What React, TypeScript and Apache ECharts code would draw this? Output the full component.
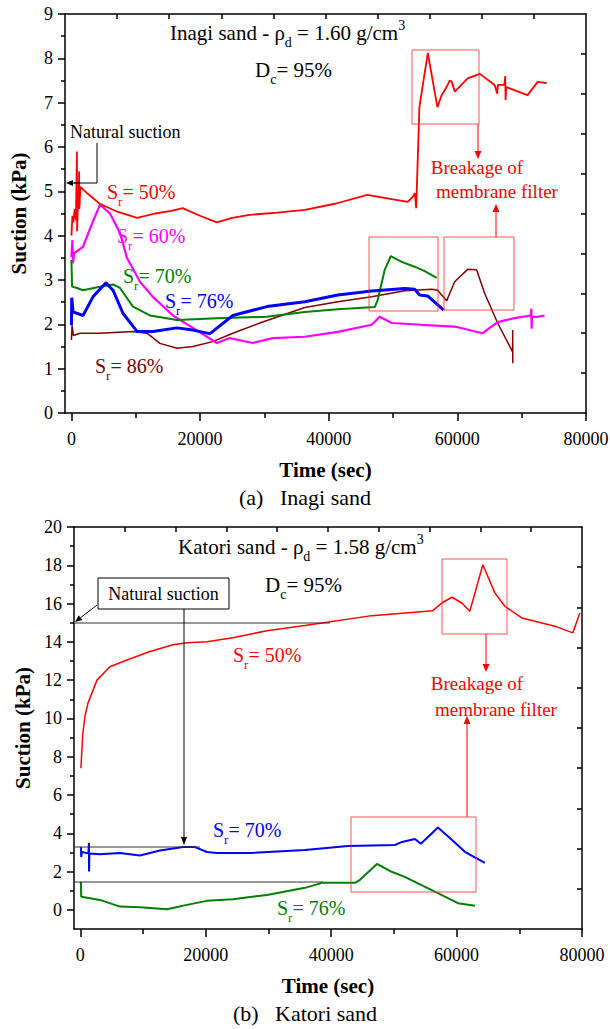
import React, { useEffect, useRef } from 'react';
import * as echarts from 'echarts';

const FONT = 'Liberation Serif';

// ---------- shared axis values ----------
const X_MIN = -1000;
const X_MAX = 80000;
const xMajorTicks = [0, 20000, 40000, 60000, 80000];
const xMinorTicks = [10000, 30000, 50000, 70000];

// ---------- (a) Inagi sand ----------
const inagiYMin = 0;
const inagiYMax = 9;
const inagiSr50: [number, number][] = [
  [0, 4.0], [150, 4.45], [300, 4.3], [500, 4.6], [700, 4.35], [850, 5.9], [880, 4.1], [1000, 4.7],
  [1150, 4.95], [1200, 5.45], [1230, 4.6], [1400, 5.1], [2500, 4.95], [4400, 4.72], [7000, 4.55],
  [10200, 4.4], [13000, 4.5], [15500, 4.56], [17300, 4.62], [20000, 4.45], [22600, 4.3], [25000, 4.4],
  [27700, 4.47], [32000, 4.52], [36300, 4.58], [41000, 4.72], [46000, 4.92], [50000, 4.82], [52300, 4.76],
  [53200, 4.9], [53400, 4.96], [53600, 4.62], [54100, 6.9], [55400, 8.12], [56900, 6.9], [57500, 7.15],
  [58500, 7.4], [58800, 7.5], [59100, 7.48], [59600, 7.25], [61600, 7.55], [63500, 7.65], [65800, 7.4],
  [66200, 7.2], [66300, 7.4], [67300, 7.4], [67450, 7.6], [67500, 7.06], [67600, 7.35], [70900, 7.17],
  [72500, 7.47], [73900, 7.44],
];
const inagiSr60: [number, number][] = [
  [0, 3.52], [150, 3.9], [250, 3.38], [400, 3.6], [1800, 3.75], [3000, 4.2], [4440, 4.7], [6000, 4.5],
  [7550, 4.06], [8630, 3.5], [10650, 2.96], [12670, 2.62], [15780, 2.2], [18880, 1.92], [22610, 1.58],
  [24630, 1.69], [28200, 1.58], [31310, 1.69], [36280, 1.72], [41410, 1.83], [46690, 1.99], [47930, 2.17],
  [49800, 2.03], [54450, 1.99], [59580, 1.95], [63930, 1.8], [66260, 2.05], [68900, 2.14], [71400, 2.2],
  [71500, 2.35], [71550, 1.9], [71600, 2.17], [72470, 2.17], [73560, 2.2],
];
const inagiSr70: [number, number][] = [
  [0, 3.45], [100, 2.85], [870, 2.82], [1800, 2.77], [4440, 2.85], [6460, 2.9], [7550, 2.82], [9570, 2.4],
  [12200, 2.2], [16400, 2.1], [22610, 2.14], [30380, 2.17], [36280, 2.28], [41410, 2.34], [47160, 2.39],
  [47620, 2.55], [48710, 3.23], [49640, 3.54], [51350, 3.41], [53360, 3.3], [54920, 3.2], [56780, 3.05],
];
const inagiSr76: [number, number][] = [
  [0, 1.98], [50, 2.6], [250, 2.28], [1800, 2.2], [3350, 2.62], [5370, 2.94], [6460, 2.77], [8010, 2.25],
  [10190, 1.84], [12670, 1.84], [16400, 1.92], [18880, 1.87], [21520, 1.79], [21980, 1.84], [25090, 2.2],
  [30380, 2.4], [36280, 2.51], [41410, 2.66], [46690, 2.75], [51810, 2.81], [53360, 2.79], [54140, 2.66],
  [55380, 2.64], [57870, 2.32],
];
const inagiSr86: [number, number][] = [
  [0, 1.65], [100, 1.98], [300, 1.75], [1340, 1.8], [4440, 1.8], [9570, 1.84], [11740, 1.8], [13760, 1.57],
  [16400, 1.46], [18880, 1.5], [21980, 1.61], [25090, 1.8], [29290, 2.03], [36280, 2.38], [41410, 2.51],
  [46690, 2.62], [51810, 2.76], [56000, 2.79], [56930, 2.77], [58330, 2.53], [59580, 2.96], [61600, 3.24],
  [62990, 3.23], [64240, 2.7], [66260, 2.03], [68590, 1.38], [68600, 1.87], [68620, 1.12],
];

// ---------- (b) Katori sand ----------
const katoriYMin = -1;
const katoriYMax = 20;
const katoriYMajor = [0, 2, 4, 6, 8, 10, 12, 14, 16, 18, 20];
const katoriYMinor = [1, 3, 5, 7, 9, 11, 13, 15, 17, 19];
const katoriSr50: [number, number][] = [
  [100, 7.4], [400, 9.2], [800, 10.2], [1230, 10.8], [2660, 12.0], [4730, 12.7], [7440, 13.05],
  [11110, 13.5], [14780, 13.85], [17010, 13.95], [20200, 14.0], [24340, 14.22], [29760, 14.58],
  [35830, 14.85], [46490, 15.37], [56220, 15.63], [57650, 16.03], [59240, 16.33], [60840, 16.03],
  [62110, 15.6], [64190, 18.03], [66100, 16.56], [67700, 15.86], [70410, 15.25], [75670, 14.82],
  [78540, 14.47], [79660, 15.51],
];
const katoriSr70: [number, number][] = [
  [100, 3.28], [150, 2.76], [250, 3.02], [1300, 2.95], [1380, 3.5], [1400, 2.0], [1450, 2.95],
  [3140, 2.9], [6330, 2.97], [9520, 2.84], [12700, 3.1], [16420, 3.28], [18290, 3.28], [20200, 3.02],
  [21800, 2.97], [27050, 2.97], [35830, 3.13], [42680, 3.34], [50180, 3.39], [51290, 3.55], [53360, 3.7],
  [54310, 3.45], [57030, 4.3], [59240, 3.66], [61320, 3.03], [64510, 2.46],
];
const katoriSr76: [number, number][] = [
  [100, 1.47], [150, 0.69], [3140, 0.52], [6330, 0.17], [9520, 0.14], [13820, 0.03], [17010, 0.26],
  [20200, 0.47], [24340, 0.55], [29760, 0.78], [35830, 1.15], [38540, 1.41], [43800, 1.41], [44600, 1.57],
  [47300, 2.4], [49650, 1.99], [51730, 1.72], [57030, 0.87], [60220, 0.35], [62930, 0.21],
];

// ---------- helpers ----------
let measureCtx: CanvasRenderingContext2D | null = null;
function textWidth(t: string, size: number) {
  if (!measureCtx) measureCtx = document.createElement('canvas').getContext('2d');
  if (!measureCtx) return t.length * size * 0.5;
  measureCtx.font = `${size}px "Liberation Serif"`;
  return measureCtx.measureText(t).width;
}
type Tok = { t: string; k?: 'sub' | 'sup' };
function composite(tokens: Tok[], x: number, y: number, size: number, color: string, align: 'left' | 'center' = 'left') {
  const small = Math.round(size * 0.66);
  const widths = tokens.map((tk) => textWidth(tk.t, tk.k ? small : size));
  const total = widths.reduce((a, b) => a + b, 0);
  let cx = align === 'center' ? x - total / 2 : x;
  const els: any[] = [];
  tokens.forEach((tk, i) => {
    const s = tk.k ? small : size;
    const dy = tk.k === 'sub' ? size * 0.45 : tk.k === 'sup' ? -size * 0.36 : 0;
    els.push({
      type: 'text', x: cx, y: y + dy, z: 100, silent: true,
      style: { text: tk.t, fill: color, fontSize: s, fontFamily: FONT, textAlign: 'left', textVerticalAlign: 'middle', align: 'left', verticalAlign: 'middle' },
    });
    cx += widths[i];
  });
  return els;
}
function arrow(x1: number, y1: number, x2: number, y2: number, color: string, head = 7, halfW = 3) {
  const dx = x2 - x1, dy = y2 - y1, L = Math.hypot(dx, dy);
  const ux = dx / L, uy = dy / L;
  const bx = x2 - ux * head, by = y2 - uy * head;
  return [
    { type: 'line', z: 100, silent: true, shape: { x1, y1, x2: bx, y2: by }, style: { stroke: color, lineWidth: 1 } },
    { type: 'polygon', z: 100, silent: true, shape: { points: [[x2, y2], [bx - uy * halfW, by + ux * halfW], [bx + uy * halfW, by - ux * halfW]] }, style: { fill: color } },
  ];
}
function line(x1: number, y1: number, x2: number, y2: number, color: string, w = 1) {
  return { type: 'line', z: 100, silent: true, shape: { x1, y1, x2, y2 }, style: { stroke: color, lineWidth: w } };
}
function box(x: number, y: number, w: number, h: number, color: string) {
  return { type: 'rect', z: 100, silent: true, shape: { x, y, width: w, height: h }, style: { stroke: color, fill: 'transparent', lineWidth: 1 } };
}
function plain(text: string, x: number, y: number, size: number, color: string, align = 'center') {
  return {
    type: 'text', x, y, z: 100, silent: true,
    style: { text, fill: color, fontSize: size, fontFamily: FONT, textAlign: align, align, textVerticalAlign: 'middle', verticalAlign: 'middle' },
  };
}

const BLACK = '#000';
const RED = '#ff0000';
const BOXRED = 'rgba(255,40,40,0.8)';
const MAGENTA = '#ff00ff';
const GREEN = '#008000';
const BLUE = '#0000ff';
const DARKRED = '#800000';

const tickStyle = { color: BLACK, width: 1.5 };
const labelStyle = { fontFamily: FONT, fontSize: 18, color: BLACK };
const nameStyle = { fontFamily: FONT, fontSize: 21, fontWeight: 'bold', color: BLACK };
const plainNum = (v: number) => String(v);

function xAxesFor(grid: number) {
  const topTicks = Array.from({ length: 9 }, (_, i) => X_MIN + ((i + 1) * (X_MAX - X_MIN)) / 10);
  return [
    {
      gridIndex: grid, type: 'value', position: 'bottom', min: X_MIN, max: X_MAX,
      axisLine: { show: true, onZero: false, lineStyle: tickStyle },
      axisTick: { show: true, customValues: xMajorTicks, length: 8, lineStyle: tickStyle },
      axisLabel: { show: true, customValues: xMajorTicks, margin: 17, formatter: plainNum, ...labelStyle },
      splitLine: { show: false },
      name: 'Time (sec)', nameLocation: 'middle', nameGap: 46, nameTextStyle: nameStyle,
    },
    {
      gridIndex: grid, type: 'value', position: 'bottom', min: X_MIN, max: X_MAX,
      axisLine: { show: false, onZero: false },
      axisTick: { show: true, customValues: xMinorTicks, length: 5, lineStyle: tickStyle },
      axisLabel: { show: false }, splitLine: { show: false },
    },
    {
      gridIndex: grid, type: 'value', position: 'top', min: X_MIN, max: X_MAX,
      axisLine: { show: true, onZero: false, lineStyle: tickStyle },
      axisTick: { show: true, inside: true, customValues: topTicks, length: 5, lineStyle: tickStyle },
      axisLabel: { show: false }, splitLine: { show: false },
    },
  ];
}

function lineSeries(name: string, data: [number, number][], color: string, width: number, xi: number, yi: number) {
  return {
    name, type: 'line', data, xAxisIndex: xi, yAxisIndex: yi, showSymbol: false, symbol: 'none',
    lineStyle: { color, width }, itemStyle: { color }, silent: true, z: 3,
  };
}

function buildGraphics() {
  const g: any[] = [];
  // ----- (a) -----
  g.push(...composite([{ t: 'Inagi sand - ρ' }, { t: 'd', k: 'sub' }, { t: ' = 1.60 g/cm' }, { t: '3', k: 'sup' }], 170, 33, 21, BLACK));
  g.push(...composite([{ t: 'D' }, { t: 'c', k: 'sub' }, { t: '= 95%' }], 255, 70, 21, BLACK));
  g.push(plain('Natural suction', 70, 132, 18, BLACK, 'left'));
  g.push({ type: 'polyline', z: 100, silent: true, shape: { points: [[97, 143], [97, 183], [74, 183]] }, style: { stroke: BLACK, lineWidth: 1, fill: 'none' } });
  g.push(...arrow(80, 183, 66, 183, BLACK, 7, 3));
  g.push(...composite([{ t: 'S' }, { t: 'r', k: 'sub' }, { t: '= 50%' }], 107, 192, 20, RED));
  g.push(...composite([{ t: 'S' }, { t: 'r', k: 'sub' }, { t: '= 60%' }], 117, 236, 20, MAGENTA));
  g.push(...composite([{ t: 'S' }, { t: 'r', k: 'sub' }, { t: '= 70%' }], 123, 276, 20, GREEN));
  g.push(...composite([{ t: 'S' }, { t: 'r', k: 'sub' }, { t: '= 76%' }], 165, 301, 20, BLUE));
  g.push(...composite([{ t: 'S' }, { t: 'r', k: 'sub' }, { t: '= 86%' }], 95, 366, 20, DARKRED));
  g.push(box(412, 50, 67, 74, BOXRED));
  g.push(...arrow(478, 124, 478, 159, RED, 8, 3.5));
  g.push(plain('Breakage of', 477, 167, 19, RED));
  g.push(plain('membrane filter', 497, 191, 19, RED));
  g.push(...arrow(496, 237, 496, 204, RED, 8, 3.5));
  g.push(box(369, 237, 69, 74, BOXRED));
  g.push(box(444, 237, 70, 73, BOXRED));
  g.push(plain('(a)   Inagi sand', 305, 497, 22, BLACK));

  // ----- (b) -----
  g.push(...composite([{ t: 'Katori sand - ρ' }, { t: 'd', k: 'sub' }, { t: ' = 1.58 g/cm' }, { t: '3', k: 'sup' }], 178, 547, 21, BLACK));
  g.push(...composite([{ t: 'D' }, { t: 'c', k: 'sub' }, { t: '= 95%' }], 265, 585, 21, BLACK));
  g.push(box(98, 578, 131, 31, BLACK));
  g.push(plain('Natural suction', 163.5, 593.5, 18, BLACK));
  g.push(...arrow(97, 605, 75, 622, BLACK, 7, 3));
  g.push(line(74, 623, 330, 623, '#333'));
  g.push(...arrow(184, 609, 184, 845, BLACK, 8, 3));
  g.push(line(74, 847, 200, 847, '#333'));
  g.push(line(74, 882, 323, 882, '#333'));
  g.push(...composite([{ t: 'S' }, { t: 'r', k: 'sub' }, { t: '= 50%' }], 233, 655, 20, RED));
  g.push(...composite([{ t: 'S' }, { t: 'r', k: 'sub' }, { t: '= 70%' }], 213, 830, 20, BLUE));
  g.push(...composite([{ t: 'S' }, { t: 'r', k: 'sub' }, { t: '= 76%' }], 277, 908, 20, GREEN));
  g.push(box(442, 559, 65, 75, BOXRED));
  g.push(...arrow(486, 634, 486, 672, RED, 8, 3.5));
  g.push(plain('Breakage of', 477, 683, 19, RED));
  g.push(plain('membrane filter', 496, 709, 19, RED));
  g.push(...arrow(467, 817, 467, 716, RED, 8, 3.5));
  g.push(box(351, 817, 125, 75, BOXRED));
  g.push(plain('(b)   Katori sand', 305, 1013, 22, BLACK));
  return g;
}

export default function App() {
  const ref = useRef<HTMLDivElement>(null);
  useEffect(() => {
    if (!ref.current) return;
    const chart = echarts.init(ref.current, null, { renderer: 'svg' });
    const inagiRight = Array.from({ length: 9 }, (_, i) => +(((i + 1) * (inagiYMax - inagiYMin)) / 10).toFixed(3));
    const katoriRight = Array.from({ length: 9 }, (_, i) => +(katoriYMin + ((i + 1) * (katoriYMax - katoriYMin)) / 10).toFixed(3));
    chart.setOption({
      animation: false,
      backgroundColor: '#fff',
      textStyle: { fontFamily: FONT },
      grid: [
        { left: 65, top: 14, width: 521, height: 399, containLabel: false, outerBoundsMode: 'none' },
        { left: 74, top: 527, width: 508, height: 402, containLabel: false, outerBoundsMode: 'none' },
      ],
      xAxis: [...xAxesFor(0), ...xAxesFor(1)],
      yAxis: [
        {
          gridIndex: 0, type: 'value', position: 'left', min: inagiYMin, max: inagiYMax, interval: 1,
          axisLine: { show: true, onZero: false, lineStyle: tickStyle },
          axisTick: { show: true, length: 7, lineStyle: tickStyle },
          minorTick: { show: true, splitNumber: 2, length: 4, lineStyle: tickStyle },
          axisLabel: { show: true, margin: 12, formatter: plainNum, ...labelStyle },
          splitLine: { show: false }, minorSplitLine: { show: false },
          name: 'Suction (kPa)', nameLocation: 'middle', nameGap: 36, nameTextStyle: nameStyle,
        },
        {
          gridIndex: 0, type: 'value', position: 'right', min: inagiYMin, max: inagiYMax,
          axisLine: { show: true, onZero: false, lineStyle: tickStyle },
          axisTick: { show: true, inside: true, customValues: inagiRight, length: 5, lineStyle: tickStyle },
          axisLabel: { show: false }, splitLine: { show: false },
        },
        {
          gridIndex: 1, type: 'value', position: 'left', min: katoriYMin, max: katoriYMax,
          axisLine: { show: true, onZero: false, lineStyle: tickStyle },
          axisTick: { show: true, customValues: katoriYMajor, length: 7, lineStyle: tickStyle },
          axisLabel: { show: true, customValues: katoriYMajor, margin: 12, formatter: plainNum, ...labelStyle },
          splitLine: { show: false },
          name: 'Suction (kPa)', nameLocation: 'middle', nameGap: 41, nameTextStyle: nameStyle,
        },
        {
          gridIndex: 1, type: 'value', position: 'left', min: katoriYMin, max: katoriYMax,
          axisLine: { show: false, onZero: false },
          axisTick: { show: true, customValues: katoriYMinor, length: 4, lineStyle: tickStyle },
          axisLabel: { show: false }, splitLine: { show: false },
        },
        {
          gridIndex: 1, type: 'value', position: 'right', min: katoriYMin, max: katoriYMax,
          axisLine: { show: true, onZero: false, lineStyle: tickStyle },
          axisTick: { show: true, inside: true, customValues: katoriRight, length: 5, lineStyle: tickStyle },
          axisLabel: { show: false }, splitLine: { show: false },
        },
      ],
      series: [
        lineSeries('Sr=86% (Inagi)', inagiSr86, DARKRED, 1.5, 0, 0),
        lineSeries('Sr=60% (Inagi)', inagiSr60, MAGENTA, 2.2, 0, 0),
        lineSeries('Sr=70% (Inagi)', inagiSr70, GREEN, 2, 0, 0),
        lineSeries('Sr=76% (Inagi)', inagiSr76, BLUE, 3, 0, 0),
        lineSeries('Sr=50% (Inagi)', inagiSr50, RED, 1.8, 0, 0),
        lineSeries('Sr=50% (Katori)', katoriSr50, RED, 1.5, 3, 2),
        lineSeries('Sr=70% (Katori)', katoriSr70, BLUE, 2, 3, 2),
        lineSeries('Sr=76% (Katori)', katoriSr76, GREEN, 2, 3, 2),
      ],
      graphic: buildGraphics(),
    });
    return () => chart.dispose();
  }, []);
  return <div ref={ref} style={{ position: 'absolute', left: 0, top: 0, width: 610, height: 1029, background: '#fff' }} />;
}
